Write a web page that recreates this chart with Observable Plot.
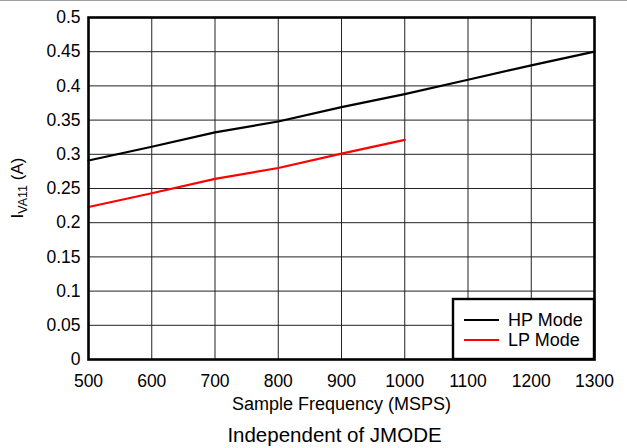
<!DOCTYPE html>
<html>
<head>
<meta charset="utf-8">
<script src="https://cdn.jsdelivr.net/npm/d3@7"></script>
<script src="https://cdn.jsdelivr.net/npm/@observablehq/plot@0.6"></script>
<style>
  html, body { margin: 0; padding: 0; background: #fff; }
  #wrap { width: 627px; border-top: 1px solid #a0a0a0; font-family: "Liberation Sans", Arial, sans-serif; }
  #caption { text-align: center; font-size: 20.5px; line-height: 24px; color: #000; margin-top: 8px; padding-left: 42px; }
</style>
</head>
<body>
<div id="wrap">
  <div id="chart"></div>
  <div id="caption">Independent of JMODE</div>
</div>
<script>
const hpFreq = [500, 600, 700, 800, 900, 1000, 1100, 1200, 1300];
const hpCurrent = [0.291, 0.311, 0.332, 0.348, 0.369, 0.388, 0.409, 0.430, 0.450];
const lpFreq = [500, 600, 700, 800, 900, 1000];
const lpCurrent = [0.223, 0.243, 0.264, 0.280, 0.301, 0.321];
const xTicks = [500, 600, 700, 800, 900, 1000, 1100, 1200, 1300];
const yTicks = [0, 0.05, 0.1, 0.15, 0.2, 0.25, 0.3, 0.35, 0.4, 0.45, 0.5];
const seriesNames = ["HP Mode", "LP Mode"];
const seriesColors = ["#000000", "#ff0000"];

const hp = hpFreq.map((f, i) => ({f, v: hpCurrent[i], s: seriesNames[0]}));
const lp = lpFreq.map((f, i) => ({f, v: lpCurrent[i], s: seriesNames[1]}));

const W = 627, H = 414;
const mL = 88, mR = 33, mT = 16, mB = 56;

const chart = Plot.plot({
  width: W, height: H,
  marginLeft: mL, marginRight: mR, marginTop: mT, marginBottom: mB,
  style: {fontFamily: "'Liberation Sans', Arial, sans-serif", fontSize: "17.5px", color: "#000", background: "#fff", overflow: "visible"},
  x: {domain: [500, 1300], ticks: xTicks, tickFormat: d => String(d), tickSize: 0, tickPadding: 15,
      label: "Sample Frequency (MSPS)", labelAnchor: "center", labelArrow: "none", labelOffset: 50},
  y: {domain: [0, 0.5], ticks: yTicks, tickFormat: d => String(+d.toFixed(2)), tickSize: 0, tickPadding: 8, label: null},
  color: {domain: seriesNames, range: seriesColors},
  marks: [
    Plot.gridX(xTicks, {stroke: "#222", strokeOpacity: 1, strokeWidth: 1}),
    Plot.gridY(yTicks, {stroke: "#222", strokeOpacity: 1, strokeWidth: 1}),
    Plot.line(hp, {x: "f", y: "v", stroke: "s", strokeWidth: 2.2}),
    Plot.line(lp, {x: "f", y: "v", stroke: "s", strokeWidth: 2.2}),
    Plot.frame({stroke: "#000", strokeWidth: 2.6})
  ]
});
document.getElementById("chart").appendChild(chart);

const svg = d3.select(chart);
// enlarge the x-axis label slightly
svg.selectAll("g[aria-label='x-axis label'] text").attr("font-size", 18);

// Y-axis label with subscript
const plotMidY = mT + (H - mT - mB) / 2;
const yl = svg.append("text")
  .attr("transform", `translate(23,${plotMidY}) rotate(-90)`)
  .attr("text-anchor", "middle")
  .attr("font-size", 17)
  .attr("fill", "#000");
yl.append("tspan").text("I");
yl.append("tspan").attr("font-size", 12.5).attr("dy", 4).text("VA11");
yl.append("tspan").attr("dy", -4).text(" (A)");

// Legend box (bottom-right inside plot)
const bw = 141, bh = 60;
const bx = W - mR - bw, by = H - mB - bh;
const lg = svg.append("g");
lg.append("rect").attr("x", bx).attr("y", by).attr("width", bw).attr("height", bh)
  .attr("fill", "#fff").attr("stroke", "#000").attr("stroke-width", 2.4);
seriesNames.forEach((name, i) => {
  const yy = by + 21 + i * 20;
  lg.append("line").attr("x1", bx + 11).attr("x2", bx + 46).attr("y1", yy).attr("y2", yy)
    .attr("stroke", seriesColors[i]).attr("stroke-width", 2.2);
  lg.append("text").attr("x", bx + 55).attr("y", yy).attr("dy", "0.36em")
    .attr("text-anchor", "start")
    .attr("font-size", 18).attr("fill", "#000").text(name);
});
</script>
</body>
</html>
